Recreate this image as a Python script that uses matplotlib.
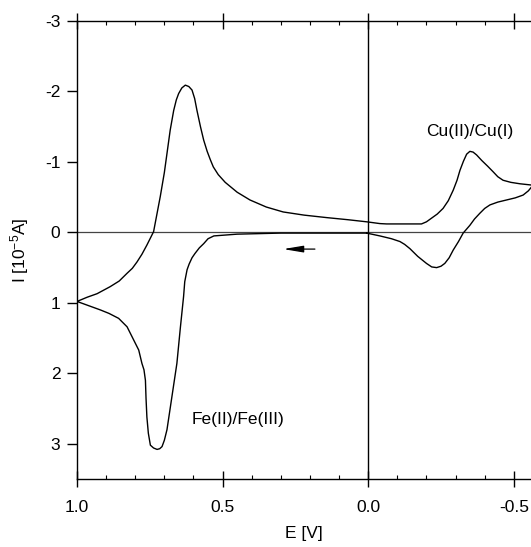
import matplotlib
matplotlib.use("agg")
import matplotlib.pyplot as plt
from matplotlib.ticker import MultipleLocator

plt.rcParams["font.family"] = ["Liberation Sans", "DejaVu Sans"]
plt.rcParams["mathtext.default"] = "regular"

# forward sweep 0 V -> 1.0 V (lower branch, Fe oxidation)
e_fwd = [0.005, 0.1, 0.2, 0.3, 0.4, 0.45, 0.496, 0.53, 0.55, 0.565, 0.58, 0.595,
         0.605, 0.615, 0.622, 0.63, 0.634, 0.645, 0.657, 0.674, 0.691, 0.70, 0.708,
         0.716, 0.725, 0.737, 0.748, 0.755, 0.760, 0.763, 0.765, 0.770, 0.777, 0.788,
         0.805, 0.828, 0.857, 0.89, 0.92, 0.96, 1.0]
i_fwd = [0.01, 0.01, 0.01, 0.01, 0.02, 0.025, 0.04, 0.05, 0.09, 0.16, 0.22, 0.30,
         0.36, 0.45, 0.53, 0.70, 0.91, 1.35, 1.86, 2.33, 2.80, 2.95, 3.04,
         3.07, 3.08, 3.06, 3.02, 2.85, 2.62, 2.35, 2.10, 1.95, 1.86, 1.67,
         1.53, 1.34, 1.22, 1.15, 1.10, 1.04, 0.98]

# reverse sweep 1.0 V -> -0.56 V (upper branch)
e_rev = [1.0, 0.965, 0.931, 0.886, 0.855, 0.828, 0.81, 0.794, 0.777, 0.760, 0.748,
         0.737, 0.725, 0.714, 0.70, 0.691, 0.68, 0.668, 0.659, 0.651, 0.64, 0.628,
         0.616, 0.605, 0.596, 0.588, 0.576, 0.565, 0.553, 0.542, 0.532, 0.515, 0.491,
         0.45, 0.406, 0.35, 0.292, 0.22, 0.143, 0.07, 0.005, -0.04, -0.063, -0.12,
         -0.183, -0.20, -0.217, -0.237, -0.257, -0.275, -0.292, -0.305, -0.315, -0.327,
         -0.338, -0.349, -0.36, -0.372, -0.39, -0.41, -0.429, -0.445, -0.463, -0.49,
         -0.521, -0.545, -0.565]
i_rev = [0.98, 0.92, 0.87, 0.77, 0.69, 0.58, 0.51, 0.42, 0.31, 0.18, 0.08,
         -0.01, -0.27, -0.51, -0.85, -1.12, -1.45, -1.73, -1.88, -1.97, -2.05, -2.09,
         -2.07, -2.02, -1.90, -1.73, -1.50, -1.31, -1.15, -1.03, -0.93, -0.82, -0.71,
         -0.57, -0.46, -0.36, -0.29, -0.245, -0.21, -0.18, -0.15, -0.125, -0.12, -0.12,
         -0.12, -0.15, -0.20, -0.26, -0.34, -0.45, -0.60, -0.74, -0.88, -1.01,
         -1.11, -1.15, -1.14, -1.10, -1.02, -0.94, -0.86, -0.79, -0.74, -0.71,
         -0.69, -0.68, -0.67]

# return sweep -0.56 V -> 0 V (Cu reduction)
e_ret = [-0.565, -0.56, -0.55, -0.532, -0.505, -0.475, -0.445, -0.418, -0.40, -0.383,
         -0.365, -0.349, -0.326, -0.31, -0.292, -0.278, -0.263, -0.25, -0.235, -0.218,
         -0.2, -0.17, -0.143, -0.125, -0.109, -0.08, -0.04, 0.005]
i_ret = [-0.66, -0.64, -0.59, -0.53, -0.49, -0.46, -0.43, -0.39, -0.34, -0.27,
         -0.19, -0.10, 0.01, 0.13, 0.25, 0.36, 0.44, 0.48, 0.50, 0.49,
         0.44, 0.34, 0.23, 0.17, 0.13, 0.09, 0.05, 0.01]

fig = plt.figure(figsize=(5.31, 5.47), dpi=100)
ax = fig.add_axes([0.145, 0.1243, 0.855, 0.8373])

ax.axhline(0, color="#444444", lw=0.9, zorder=1)
ax.axvline(0, color="black", lw=1.0, zorder=1)

ax.plot(e_fwd + e_rev + e_ret, i_fwd + i_rev + i_ret, color="black", lw=1.0)

ax.annotate("", xy=(0.292, 0.237), xytext=(0.183, 0.237),
            arrowprops=dict(arrowstyle="-|>,head_length=0.6,head_width=0.1",
                            color="black", lw=0.9, mutation_scale=20,
                            shrinkA=0, shrinkB=0))

ax.text(0.605, 2.66, "Fe(II)/Fe(III)", fontsize=12.5, va="center", ha="left")
ax.text(-0.2, -1.43, "Cu(II)/Cu(I)", fontsize=12.5, va="center", ha="left")

ax.set_xlim(1.0, -0.559)
ax.set_ylim(3.5, -3)

ax.xaxis.set_minor_locator(MultipleLocator(0.1))
ax.set_xticks([1.0, 0.5, 0.0, -0.5])
ax.set_xticklabels(["1.0", "0.5", "0.0", "-0.5"])
ax.set_yticks([-3, -2, -1, 0, 1, 2, 3])
ax.set_yticklabels(["-3", "-2", "-1", "0", "1", "2", "3"])

ax.spines["right"].set_visible(False)
for s in ["left", "top", "bottom"]:
    ax.spines[s].set_linewidth(1.0)

ax.tick_params(axis="x", which="major", direction="inout", length=12, width=1,
               top=True, bottom=True, labelsize=12.5, pad=9)
ax.tick_params(axis="x", which="minor", direction="in", length=3, width=0.8,
               top=True, bottom=True)
ax.tick_params(axis="y", which="major", direction="out", length=7, width=1,
               left=True, right=False, labelsize=12.5, pad=5)

ax.set_xlabel("E [V]", fontsize=12.5, labelpad=8)
ax.set_ylabel("I [10$^{-5}$A]", fontsize=12.5, labelpad=10)

fig.savefig("out.png", dpi=100)
